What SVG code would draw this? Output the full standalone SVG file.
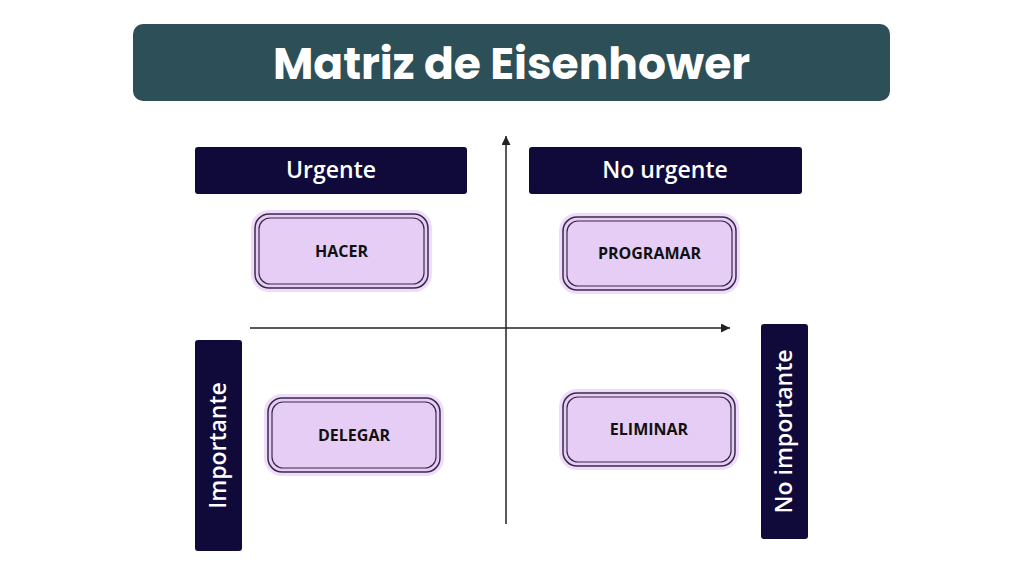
<svg xmlns="http://www.w3.org/2000/svg" width="1024" height="576" viewBox="0 0 1024 576">
<style>
.hdr{fill:#0f0a3a}
.ht{font-family:"Open Sans","Noto Sans",sans-serif;font-weight:600;font-size:23px;fill:#fff;text-anchor:middle}
.halo{fill:#efdcfa}
.box{fill:#e6cdf5;stroke:#3a2a4a;stroke-width:1.5}
.in{fill:none;stroke:#3a2a4a;stroke-width:1.2}
.bt{font-family:"Open Sans","Noto Sans",sans-serif;font-weight:700;font-size:16px;fill:#111;text-anchor:middle}
.ax{stroke:#222;stroke-width:1.5;fill:none}
</style>
<defs><marker id="a" markerWidth="8" markerHeight="8" refX="6" refY="3" orient="auto"><path d="M0,0L6,3L0,6z" fill="#222"/></marker></defs>
<rect width="1024" height="576" fill="#fff"/>
<g id="title"><rect x="133" y="24" width="757" height="77" rx="10" fill="#2d4f57"/>
<text x="511.5" y="79" font-family="Poppins,'Open Sans','Noto Sans',sans-serif" font-weight="700" font-size="44" fill="#fff" text-anchor="middle">Matriz de Eisenhower</text></g>
<g id="connectors">
<line class="ax" x1="506" y1="524" x2="506" y2="136" marker-end="url(#a)"/>
<line class="ax" x1="250" y1="328" x2="730" y2="328" marker-end="url(#a)"/>
</g>
<g id="urgente"><rect class="hdr" x="195" y="147" width="272" height="47" rx="3"/><text class="ht" x="331" y="178">Urgente</text></g>
<g id="nourgente"><rect class="hdr" x="529" y="147" width="273" height="47" rx="3"/><text class="ht" x="665" y="178">No urgente</text></g>
<g id="importante"><rect class="hdr" x="195" y="340" width="47" height="211" rx="3"/><text class="ht" transform="translate(226,445.5) rotate(-90)">Importante</text></g>
<g id="noimportante"><rect class="hdr" x="761" y="324" width="47" height="215" rx="3"/><text class="ht" transform="translate(792,431.5) rotate(-90)">No importante</text></g>
<g id="hacer"><rect class="halo" x="251" y="210" width="181" height="82" rx="18"/><rect class="box" x="255" y="214" width="173" height="74" rx="14"/><rect class="in" x="259" y="218" width="165" height="66" rx="11"/><text class="bt" x="341.5" y="257">HACER</text></g>
<g id="programar"><rect class="halo" x="559" y="213" width="181" height="81" rx="18"/><rect class="box" x="563" y="217" width="173" height="73" rx="14"/><rect class="in" x="567" y="221" width="165" height="65" rx="11"/><text class="bt" x="649.5" y="259">PROGRAMAR</text></g>
<g id="delegar"><rect class="halo" x="264" y="394" width="180" height="82" rx="18"/><rect class="box" x="268" y="398" width="172" height="74" rx="14"/><rect class="in" x="272" y="402" width="164" height="66" rx="11"/><text class="bt" x="354" y="441">DELEGAR</text></g>
<g id="eliminar"><rect class="halo" x="559" y="389" width="180" height="81" rx="18"/><rect class="box" x="563" y="393" width="172" height="73" rx="14"/><rect class="in" x="567" y="397" width="164" height="65" rx="11"/><text class="bt" x="649" y="435">ELIMINAR</text></g>
</svg>
